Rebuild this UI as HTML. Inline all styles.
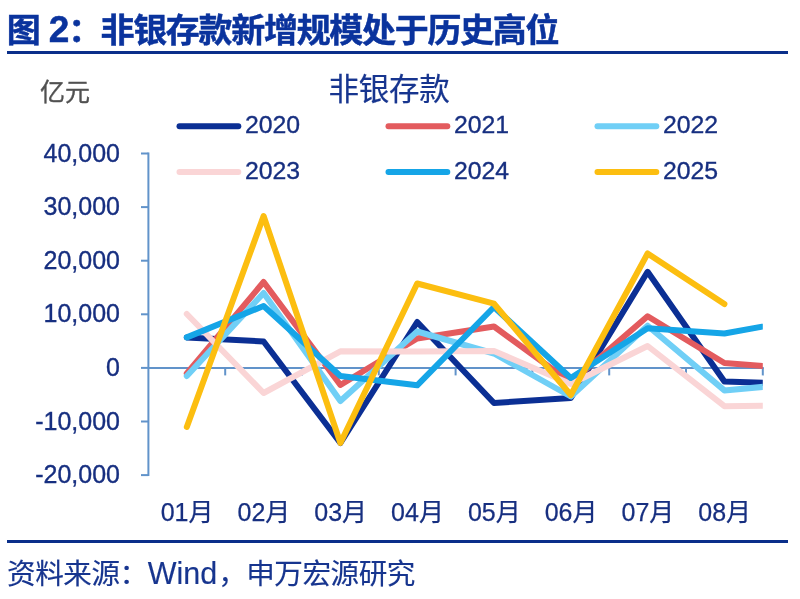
<!DOCTYPE html>
<html lang="zh-CN"><head><meta charset="utf-8"><title>图 2：非银存款新增规模处于历史高位</title>
<style>
html,body{margin:0;padding:0;background:#fff;}
body{width:800px;height:599px;position:relative;overflow:hidden;font-family:"Liberation Sans","Noto Sans CJK SC",sans-serif;color:#0f2f8c;}
.t{position:absolute;white-space:nowrap;line-height:1;-webkit-text-stroke:0.35px currentColor;}
.title{left:6.8px;top:13.4px;line-height:34px;font-size:34px;letter-spacing:-1.3px;word-spacing:1px;font-weight:bold;color:#0a339d;-webkit-text-stroke:0.5px currentColor;}
.title .n{font-size:37px;line-height:0;letter-spacing:-0.9px;position:relative;top:-0.3px;}
.title .c{letter-spacing:-1.9px;}
.title .k{display:inline-block;transform:scaleY(0.96);transform-origin:50% 62%;}
.rule{position:absolute;left:7px;width:780.5px;height:3px;background:#0a2f8a;}
.unit{left:40px;top:80px;font-size:25px;color:#505050;}
.ctitle{left:328.6px;top:73.7px;font-size:30.5px;letter-spacing:-0.3px;color:#17358f;-webkit-text-stroke:0.2px currentColor;}
.lg{font-size:24.8px;color:#172f80;}
.yl{font-size:25px;color:#172f80;text-align:right;width:120px;left:0;}
.xl{font-size:25px;color:#172f80;text-align:center;width:77px;-webkit-text-stroke:0.25px currentColor;}
.src{left:7px;top:560.2px;line-height:28.6px;font-size:28.6px;letter-spacing:-0.45px;color:#17358f;-webkit-text-stroke:0.15px currentColor;}
.src .m{margin-left:0.3px;margin-right:-0.3px;}
.src .w{font-size:30.5px;line-height:0;letter-spacing:0;margin-left:0;margin-right:0.75px;}
</style></head><body>
<div class="t title"><span class="k">图</span> <span class="n">2</span><span class="k"><span class="c">：</span>非银存款新增规模处于历史高位</span></div>
<div class="rule" style="top:51px"></div>
<div class="t unit">亿元</div>
<div class="t ctitle">非银存款</div>

<svg width="800" height="599" viewBox="0 0 800 599" style="position:absolute;left:0;top:0">
<defs><clipPath id="pc"><rect x="140" y="140" width="622.8" height="340"/></clipPath></defs>
<g stroke="#6193ca" stroke-width="2" fill="none" stroke-linecap="butt">
<line x1="148.4" y1="152.5" x2="148.4" y2="476.1"/>
<line x1="141" y1="153.5" x2="148.4" y2="153.5"/>
<line x1="141" y1="207.1" x2="148.4" y2="207.1"/>
<line x1="141" y1="260.7" x2="148.4" y2="260.7"/>
<line x1="141" y1="314.3" x2="148.4" y2="314.3"/>
<line x1="141" y1="367.9" x2="148.4" y2="367.9"/>
<line x1="141" y1="421.5" x2="148.4" y2="421.5"/>
<line x1="141" y1="475.1" x2="148.4" y2="475.1"/>
<line x1="148.4" y1="367.9" x2="763.8" y2="367.9"/>
<line x1="225.2" y1="367.9" x2="225.2" y2="375.4"/>
<line x1="302.0" y1="367.9" x2="302.0" y2="375.4"/>
<line x1="378.8" y1="367.9" x2="378.8" y2="375.4"/>
<line x1="455.6" y1="367.9" x2="455.6" y2="375.4"/>
<line x1="532.4" y1="367.9" x2="532.4" y2="375.4"/>
<line x1="609.2" y1="367.9" x2="609.2" y2="375.4"/>
<line x1="686.0" y1="367.9" x2="686.0" y2="375.4"/>
<line x1="762.8" y1="367.9" x2="762.8" y2="375.4"/>
</g>
<g clip-path="url(#pc)" fill="none" stroke-width="6" stroke-linejoin="round" stroke-linecap="round">
<polyline stroke="#0b2f94" points="186.8,337.4 263.6,341.5 340.4,443.0 417.2,322.0 494.0,403.0 570.8,398.0 647.6,271.8 724.4,381.5 801.2,384.0"/>
<polyline stroke="#e35b5e" points="186.8,373.5 263.6,282.0 340.4,385.0 417.2,338.5 494.0,326.5 570.8,382.5 647.6,316.2 724.4,363.0 801.2,369.0"/>
<polyline stroke="#70cff6" points="186.8,376.0 263.6,293.0 340.4,401.0 417.2,331.5 494.0,353.5 570.8,396.5 647.6,325.7 724.4,390.4 801.2,383.4"/>
<polyline stroke="#fad5d6" points="186.8,314.0 263.6,393.0 340.4,351.3 417.2,351.5 494.0,351.0 570.8,384.0 647.6,346.0 724.4,406.2 801.2,405.4"/>
<polyline stroke="#15a5e7" points="186.8,337.4 263.6,306.0 340.4,376.0 417.2,385.3 494.0,307.0 570.8,378.0 647.6,328.2 724.4,333.5 801.2,319.5"/>
<polyline stroke="#fcbe10" points="186.8,427.0 263.6,216.0 340.4,443.0 417.2,283.5 494.0,303.7 570.8,395.0 647.6,253.5 724.4,304.0"/>
</g>
<g fill="none" stroke-width="6" stroke-linecap="round">
<line x1="179.5" y1="126.3" x2="238.3" y2="126.3" stroke="#0b2f94"/>
<line x1="388.5" y1="126.3" x2="447.3" y2="126.3" stroke="#e35b5e"/>
<line x1="597.5" y1="126.3" x2="656.3" y2="126.3" stroke="#70cff6"/>
<line x1="179.5" y1="172" x2="238.3" y2="172" stroke="#fad5d6"/>
<line x1="388.5" y1="172" x2="447.3" y2="172" stroke="#15a5e7"/>
<line x1="597.5" y1="172" x2="656.3" y2="172" stroke="#fcbe10"/>
</g>
</svg>
<div class="t lg" style="left:245.0px;top:113.0px">2020</div>
<div class="t lg" style="left:454.0px;top:113.0px">2021</div>
<div class="t lg" style="left:663.0px;top:113.0px">2022</div>
<div class="t lg" style="left:245.0px;top:158.7px">2023</div>
<div class="t lg" style="left:454.0px;top:158.7px">2024</div>
<div class="t lg" style="left:663.0px;top:158.7px">2025</div>
<div class="t yl" style="top:140.6px">40,000</div>
<div class="t yl" style="top:194.2px">30,000</div>
<div class="t yl" style="top:247.8px">20,000</div>
<div class="t yl" style="top:301.4px">10,000</div>
<div class="t yl" style="top:355.0px">0</div>
<div class="t yl" style="top:408.6px">-10,000</div>
<div class="t yl" style="top:462.2px">-20,000</div>
<div class="t xl" style="left:148.6px;top:500px">01月</div>
<div class="t xl" style="left:225.4px;top:500px">02月</div>
<div class="t xl" style="left:302.2px;top:500px">03月</div>
<div class="t xl" style="left:379.0px;top:500px">04月</div>
<div class="t xl" style="left:455.8px;top:500px">05月</div>
<div class="t xl" style="left:532.6px;top:500px">06月</div>
<div class="t xl" style="left:609.4px;top:500px">07月</div>
<div class="t xl" style="left:686.2px;top:500px">08月</div>
<div class="rule" style="top:540px"></div>
<div class="t src">资料来源：<span class="w">Wind</span><span class="m">，</span>申万宏源研究</div>
</body></html>
